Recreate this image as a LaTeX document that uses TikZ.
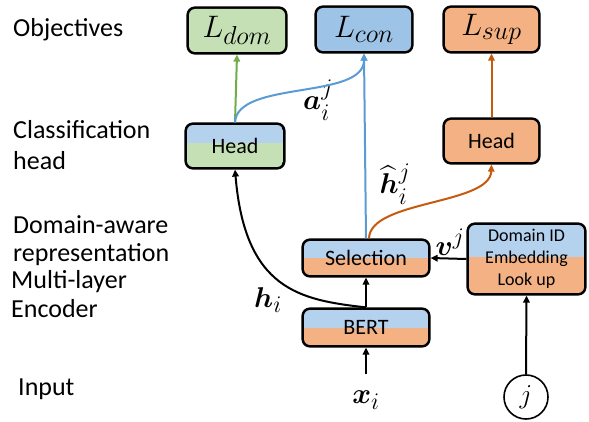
\documentclass[tikz,border=0pt]{standalone}
\usepackage{amsmath}
\usepackage{bm}
\usepackage{graphicx}
\usepackage{fontspec}
\setmainfont{Carlito}
\usetikzlibrary{arrows.meta,calc,backgrounds}
\definecolor{cgreen}{HTML}{C5E0B4}
\definecolor{cblue}{HTML}{9DC3E6}
\definecolor{clblue}{HTML}{B4D1EE}
\definecolor{corange}{HTML}{F4B183}
\definecolor{lgreen}{HTML}{70AD47}
\definecolor{lblue}{HTML}{5B9BD5}
\definecolor{lorange}{HTML}{C55A11}
\newcommand{\mysc}[2]{\scalebox{#1}{$#2$}}
\tikzset{
  box/.style={rounded corners=6pt, inner sep=0pt, align=center},
  rim/.style={fill=black, rounded corners=8.5pt},
  splitfill/.style n args={3}{path picture={
     \fill[#1, sharp corners] (path picture bounding box.north west) rectangle ($(path picture bounding box.north east)!#3!(path picture bounding box.south east)$);
     \fill[#2, sharp corners] (path picture bounding box.south west) rectangle ($(path picture bounding box.north east)!#3!(path picture bounding box.south east)$);}},
  boxfont/.style={font=\fontsize{22}{24}\selectfont},
  lossfont/.style={font=\fontsize{24.88}{28}\selectfont},
  lbl/.style={anchor=base west, inner sep=0pt, font=\fontsize{26}{28}\selectfont},
  mlbl/.style={inner sep=0pt, font=\fontsize{24.88}{28}\selectfont},
  arr/.style={-{Triangle[length=7pt,width=6.5pt]}, line width=2pt},
}
\begin{document}
\begin{tikzpicture}[x=1pt,y=1pt]
\useasboundingbox (0,0) rectangle (589,421);
% left labels
\node[lbl] (t1) at (13,384) {Objectives};
\node[lbl] (t2) at (13,282) {Classification};
\node[lbl] (t3) at (13,251) {head};
\node[lbl] (t4) at (13,188) {Domain-aware};
\node[lbl] (t5) at (13,160) {representation};
\node[lbl] (t6) at (11,133) {Multi-layer};
\node[lbl] (t7) at (11,104) {Encoder};
\node[lbl] (t8) at (18,26) {Input};
% objectives
\node[box, fill=cgreen, minimum width=96pt, minimum height=43pt, lossfont] (ldom) at (237,390.5) {\mysc{1.25}{L_{dom}}};
\node[box, fill=cblue, minimum width=94pt, minimum height=43pt, lossfont] (lcon) at (364,391.5) {\mysc{1.25}{L_{con}}};
\node[box, fill=corange, minimum width=93pt, minimum height=43pt, lossfont] (lsup) at (491.5,391.5) {\mysc{1.25}{L_{sup}}};
% heads
\node[box, splitfill={clblue}{cgreen}{0.43}, minimum width=96pt, minimum height=42pt, boxfont] (hl) at (235,275) {Head};
\node[box, fill=corange, minimum width=93pt, minimum height=42pt, boxfont] (hr) at (491.5,280) {Head};
% selection, bert, domain
\node[box, splitfill={clblue}{corange}{0.5}, minimum width=124pt, minimum height=34pt, boxfont] (sel) at (366,163) {Selection};
\node[box, splitfill={clblue}{corange}{0.5}, minimum width=124pt, minimum height=35pt, boxfont] (bert) at (366,93.5) {BERT};
\node[box, splitfill={clblue}{corange}{0.47}, minimum width=115pt, minimum height=68pt, font=\fontsize{18}{22}\selectfont] (dom) at (526.5,162) {Domain ID\\Embedding\\Look up};
\begin{scope}[on background layer]
\foreach \bx in {ldom,lcon,lsup,hl,hr,sel,bert,dom}
  \fill[rim] ([shift={(-2.4pt,-2.4pt)}]\bx.south west) rectangle ([shift={(2.4pt,2.4pt)}]\bx.north east);
\end{scope}
\node[draw=black, circle, line width=1.6pt, minimum size=44pt, inner sep=0pt, mlbl] (jc) at (526,24) {\mysc{1.1}{j}};
% math labels
\node[mlbl] (xi) at (366,21) {\mysc{1.15}{\bm{x}_i}};
\coordinate (xitop) at (366,47);
\node[mlbl] (hi) at (268,121) {\mysc{1.15}{\bm{h}_i}};
\node[mlbl] (aij) at (318,321) {\mysc{1.15}{\bm{a}_i^j}};
\node[mlbl] (hhat) at (395,237) {\mysc{1.15}{\widehat{\bm{h}}_i^j}};
\node[mlbl] (vj) at (450,179) {\mysc{1.15}{\bm{v}^j}};
% connectors
\draw[arr] (xitop) -- ([yshift=-2.4pt]bert.south);
\draw[arr] ([yshift=2.4pt]bert.north) -- ([yshift=-2.4pt]sel.south);
\draw[arr] ([xshift=-2.4pt]dom.west) -- ([xshift=2.4pt]sel.east);
\draw[arr] (jc.north) -- ([yshift=-2.4pt]dom.south);
\draw[arr] ([yshift=2.4pt]bert.north) .. controls (300,121) and (245,131) .. ([yshift=-2.4pt]hl.south);
\draw[arr, lgreen] ([yshift=2.4pt]hl.north) -- ([yshift=-2.4pt]ldom.south);
\draw[arr, lblue] ([yshift=2.4pt]hl.north) .. controls (237,341) and (364,321) .. ([yshift=-2.4pt]lcon.south);
\draw[arr, lblue] ([yshift=2.4pt]sel.north) -- ([yshift=-2.4pt]lcon.south);
\draw[arr, lorange] ([xshift=3pt,yshift=2.4pt]sel.north) .. controls (370,221) and (490,216) .. ([yshift=-2.4pt]hr.south);
\draw[arr, lorange] ([yshift=2.4pt]hr.north) -- ([yshift=-2.4pt]lsup.south);
\end{tikzpicture}
\end{document}
